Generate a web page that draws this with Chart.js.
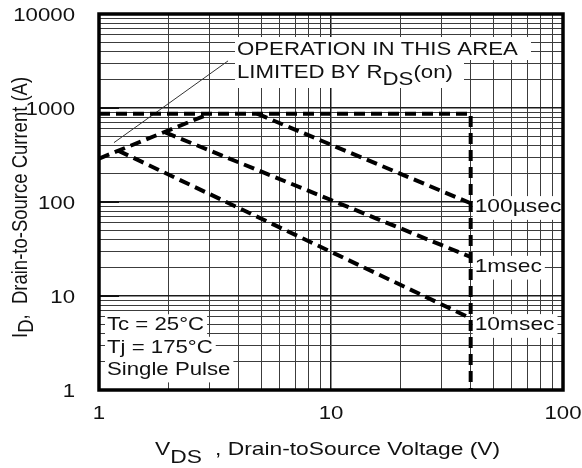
<!DOCTYPE html>
<html>
<head>
<meta charset="utf-8">
<script src="https://cdn.jsdelivr.net/npm/chart.js@4.4.1/dist/chart.umd.min.js"></script>
<style>
  html, body { margin: 0; padding: 0; background: #fff; }
  #soa { display: block; }
</style>
</head>
<body>
<canvas id="soa" width="582" height="468"></canvas>
<script>
// maximum safe operating area
const xTickLabels = ['1', '10', '100'];
const yTickLabels = ['1', '10', '100', '1000', '10000'];
const xTicks = [1, 10, 100];
const yTicks = [1, 10, 100, 1000, 10000];

// current limit line and the 40 V wall
const limitV = [1, 40, 40];
const limitI = [870, 870, 1];
// RDS(on) limited part
const rdsV = [1, 3];
const rdsI = [290, 870];
// single pulse lines
const pulseNames = ['100µsec', '1msec', '10msec'];
const v100us = [4.8, 40];
const i100us = [870, 97];
const v1ms = [1.93, 40];
const i1ms = [550, 26];
const v10ms = [1.21, 40];
const i10ms = [352, 5.8];

const conditions = ['Tc = 25°C', 'Tj = 175°C', 'Single Pulse'];

const FONT = '"Liberation Sans", Arial, sans-serif';
const SX = 1.2; // the scanned chart is stretched sideways a bit

function pts(xs, ys) {
  return xs.map((x, i) => ({ x: x, y: ys[i] }));
}

function isPow10(v) {
  const l = Math.log10(v);
  return Math.abs(l - Math.round(l)) < 1e-9;
}

function gridValues(lo, hi) {
  const out = [];
  for (let d = lo; d < hi; d *= 10) {
    for (let k = 1; k < 10; k++) out.push(k * d);
  }
  out.push(hi);
  return out;
}

function textW(ctx, s, size) {
  ctx.font = size + 'px ' + FONT;
  return ctx.measureText(s).width;
}

// draw pieces of text one after the other, [text, dy] with dy for subscripts
function runs(ctx, parts, x, y, size, rotated, bg) {
  let adv = 0;
  const total = parts.reduce((a, p) => a + textW(ctx, p[0], size) * (rotated ? 1 : SX), 0);
  if (bg) {
    ctx.fillStyle = '#fff';
    ctx.fillRect(x - 2, y - size * 0.85, total + 5, size * 1.25);
  }
  parts.forEach((p) => {
    ctx.save();
    ctx.font = size + 'px ' + FONT;
    ctx.fillStyle = '#111';
    ctx.textBaseline = 'alphabetic';
    if (rotated) {
      ctx.translate(x + p[1], y - adv);
      ctx.rotate(-Math.PI / 2);
      ctx.scale(1, SX);
    } else {
      ctx.translate(x + adv, y + p[1]);
      ctx.scale(SX, 1);
    }
    ctx.fillText(p[0], 0, 0);
    ctx.restore();
    adv += textW(ctx, p[0], size) * (rotated ? 1 : SX);
  });
  return total;
}

const soaPlugin = {
  id: 'soa',
  beforeDatasetsDraw(chart) {
    const ctx = chart.ctx;
    const xs = chart.scales.x, ys = chart.scales.y;
    const area = chart.chartArea;
    ctx.save();

    // short heavy ticks on the inside of the left edge
    ctx.strokeStyle = '#111';
    ctx.lineWidth = 2;
    [10, 100, 1000].forEach((v) => {
      const py = ys.getPixelForValue(v);
      ctx.beginPath();
      ctx.moveTo(area.left, py);
      ctx.lineTo(area.left + 20, py);
      ctx.stroke();
    });

    // pointer to the RDS(on) line
    ctx.strokeStyle = '#333';
    ctx.lineWidth = 1;
    ctx.beginPath();
    ctx.moveTo(xs.getPixelForValue(1.16), ys.getPixelForValue(428));
    ctx.lineTo(xs.getPixelForValue(3.6), ys.getPixelForValue(3170));
    ctx.stroke();

    // note box
    ctx.fillStyle = '#fff';
    ctx.fillRect(235, 37, 296, 23);
    ctx.fillRect(235, 60, 229, 28);
    runs(ctx, [['OPERATION IN THIS AREA', 0]], 237, 55, 18.5, false, false);
    const w = runs(ctx, [['LIMITED BY R', 0]], 237, 78, 18.5, false, false);
    const w2 = runs(ctx, [['DS', 7]], 237 + w, 78, 18.5, false, false);
    runs(ctx, [['(on)', 0]], 237 + w + w2, 78, 18.5, false, false);

    // pulse labels next to the line ends
    const ends = [i100us[1], i1ms[1], i10ms[1]];
    const shift = [9, 15, 12];
    pulseNames.forEach((name, i) => {
      const px = xs.getPixelForValue(limitV[1]) + 4;
      const py = ys.getPixelForValue(ends[i]) + shift[i];
      runs(ctx, [[name, 0]], px, py, 19, false, true);
    });

    // test conditions
    conditions.forEach((s, i) => {
      runs(ctx, [[s, 0]], 107, 330 + i * 22.5, 18.5, false, true);
    });
    ctx.restore();
  },
  afterDatasetsDraw(chart) {
    const ctx = chart.ctx;
    const a = chart.chartArea;
    ctx.save();
    ctx.strokeStyle = '#000';
    ctx.lineWidth = 3.5;
    ctx.strokeRect(a.left, a.top, a.right - a.left, a.bottom - a.top);
    ctx.restore();
  },
  afterDraw(chart) {
    const ctx = chart.ctx;
    const xs = chart.scales.x, ys = chart.scales.y;
    ctx.save();
    yTicks.forEach((v, i) => {
      const s = yTickLabels[i];
      const w = textW(ctx, s, 18.5) * SX;
      runs(ctx, [[s, 0]], 75 - w, ys.getPixelForValue(v) + 7, 18.5, false, false);
    });
    xTicks.forEach((v, i) => {
      const s = xTickLabels[i];
      const w = textW(ctx, s, 18.5) * SX;
      runs(ctx, [[s, 0]], xs.getPixelForValue(v) - w / 2, 419, 18.5, false, false);
    });
    // axis titles
    runs(ctx, [['V', 0], ['DS', 8]], 155, 455, 19, false, false);
    runs(ctx, [[', Drain-toSource Voltage (V)', 0]], 215, 455, 19, false, false);
    runs(ctx, [['I', 0], ['D', 6], [',  Drain-to-Source Current (A)', 0]], 27, 338, 18.5, true, false);
    ctx.restore();
  }
};

function gridColor(c) {
  return c.tick && isPow10(c.tick.value) ? '#1a1a1a' : '#3c3c3c';
}
function gridWidth(c) {
  return c.tick && isPow10(c.tick.value) ? 1.5 : 1;
}

function dashed(data) {
  return {
    data: data,
    borderColor: '#000',
    borderWidth: 4,
    borderDash: [11, 6],
    borderCapStyle: 'butt',
    pointRadius: 0,
    fill: false,
    tension: 0
  };
}

new Chart(document.getElementById('soa'), {
  type: 'line',
  data: {
    datasets: [
      dashed(pts(limitV, limitI)),
      dashed(pts(rdsV, rdsI)),
      dashed(pts(v100us, i100us)),
      dashed(pts(v1ms, i1ms)),
      dashed(pts(v10ms, i10ms))
    ]
  },
  options: {
    responsive: false,
    animation: false,
    devicePixelRatio: 1,
    layout: { padding: { left: 99, top: 14, right: 19, bottom: 78 } },
    plugins: { legend: { display: false }, tooltip: { enabled: false } },
    scales: {
      x: {
        type: 'logarithmic',
        min: 1,
        max: 100,
        afterBuildTicks: (s) => { s.ticks = gridValues(1, 100).map((v) => ({ value: v })); },
        ticks: { display: false },
        border: { display: false },
        grid: { drawTicks: false, color: gridColor, lineWidth: gridWidth }
      },
      y: {
        type: 'logarithmic',
        min: 1,
        max: 10000,
        afterBuildTicks: (s) => { s.ticks = gridValues(1, 10000).map((v) => ({ value: v })); },
        ticks: { display: false },
        border: { display: false },
        grid: { drawTicks: false, color: gridColor, lineWidth: gridWidth }
      }
    }
  },
  plugins: [soaPlugin]
});
</script>
</body>
</html>
